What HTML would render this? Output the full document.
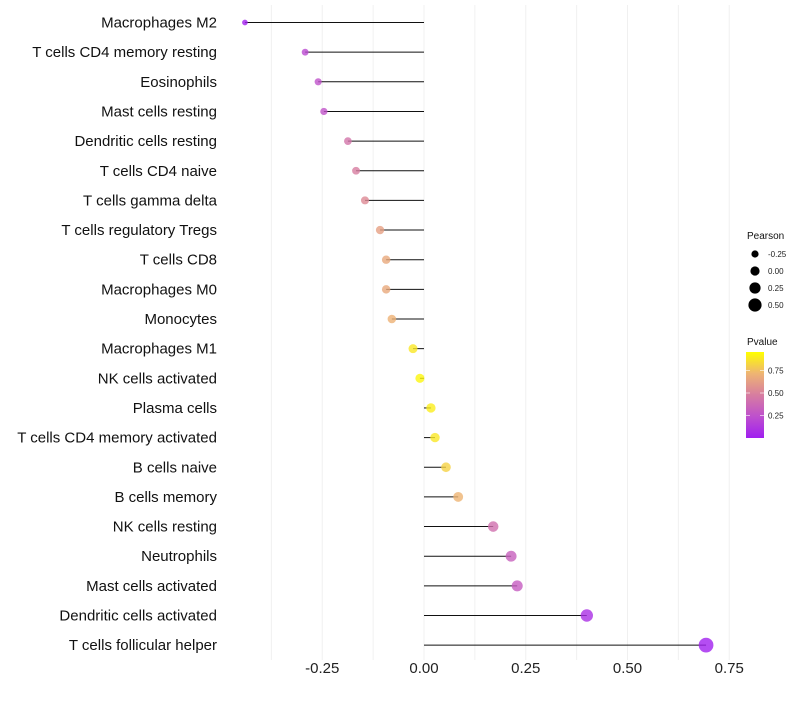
<!DOCTYPE html>
<html><head><meta charset="utf-8"><style>
body{margin:0;background:#fff;font-family:"Liberation Sans",sans-serif}
</style></head><body>
<svg id="c" width="800" height="700" font-family="Liberation Sans, sans-serif"></svg>
<script>
const categories=["Macrophages M2","T cells CD4 memory resting","Eosinophils","Mast cells resting","Dendritic cells resting","T cells CD4 naive","T cells gamma delta","T cells regulatory  Tregs","T cells CD8","Macrophages M0","Monocytes","Macrophages M1","NK cells activated","Plasma cells","T cells CD4 memory activated","B cells naive","B cells memory","NK cells resting","Neutrophils","Mast cells activated","Dendritic cells activated","T cells follicular helper"];
const pearson=[-0.44,-0.292,-0.26,-0.246,-0.187,-0.167,-0.145,-0.108,-0.093,-0.093,-0.079,-0.027,-0.01,0.017,0.027,0.054,0.084,0.17,0.214,0.229,0.40,0.693];
const pvalue=[0.01,0.22,0.26,0.27,0.45,0.5,0.56,0.66,0.7,0.7,0.74,0.92,0.97,0.94,0.92,0.85,0.75,0.42,0.34,0.32,0.08,0.01];
const xTicks=[-0.25,0,0.25,0.5,0.75];
const xTickLabels=["-0.25","0.00","0.25","0.50","0.75"];
const sizeLegend=[-0.25,0,0.25,0.5];
const sizeLegendLabels=["-0.25","0.00","0.25","0.50"];
const pLegend=[0.25,0.5,0.75];
const pLegendLabels=["0.25","0.50","0.75"];

const NS="http://www.w3.org/2000/svg";
const svg=document.getElementById('c');
const X=v=>424+v*407;
const Y=i=>22.5+i*29.65;
const R=v=>4.6+4*v;
const stops=[[0,[160,31,240]],[0.25,[190,80,205]],[0.5,[215,125,160]],[0.75,[238,180,115]],[1,[255,255,0]]];
function col(p){for(let k=1;k<stops.length;k++){if(p<=stops[k][0]){const a=stops[k-1],b=stops[k],t=(p-a[0])/(b[0]-a[0]);return 'rgb('+a[1].map((c,j)=>Math.round(c+(b[1][j]-c)*t)).join(',')+')';}}return 'rgb(255,255,0)';}
function el(t,a,p){const e=document.createElementNS(NS,t);for(const k in a)e.setAttribute(k,a[k]);(p||svg).appendChild(e);return e;}
for(let v=-0.375;v<=0.76;v+=0.125){const g=el('line',{x1:X(v),x2:X(v),y1:5,y2:660,stroke:'#f0f0f0','stroke-width':1});

}
xTicks.forEach((v,i)=>{const t=el('text',{x:X(v),y:673,'text-anchor':'middle','font-size':15,fill:'#222'});t.textContent=xTickLabels[i];

});
categories.forEach((c,i)=>{
const y=Y(i);
const t=el('text',{x:217,y:y+5,'text-anchor':'end','font-size':15,fill:'#111'});t.textContent=c;


const l=el('line',{x1:X(0),x2:X(pearson[i]),y1:y,y2:y,stroke:'#111','stroke-width':1});


const d=el('circle',{cx:X(pearson[i]),cy:y,r:R(pearson[i]),fill:col(pvalue[i]),opacity:0.8});


});
const st=el('text',{x:747,y:239,'font-size':10,fill:'#111'});st.textContent='Pearson';


sizeLegend.forEach((v,i)=>{const y=254+i*17;
const c=el('circle',{cx:755,cy:y,r:R(v),fill:'#000'});


const t=el('text',{x:768,y:y+3,'font-size':8,fill:'#222'});t.textContent=sizeLegendLabels[i];

});
const ct=el('text',{x:747,y:345,'font-size':10,fill:'#111'});ct.textContent='Pvalue';


const defs=el('defs',{});const lg=el('linearGradient',{id:'g',x1:0,y1:1,x2:0,y2:0},defs);
stops.forEach(s=>el('stop',{offset:s[0],'stop-color':'rgb('+s[1].join(',')+')'},lg));
const bar=el('rect',{x:746,y:352,width:18,height:86,fill:'url(#g)'});


pLegend.forEach((v,i)=>{const y=438-v*90;
el('line',{x1:746,x2:750,y1:y,y2:y,stroke:'#fff','stroke-width':0.6});
el('line',{x1:760,x2:764,y1:y,y2:y,stroke:'#fff','stroke-width':0.6});
const t=el('text',{x:768,y:y+3,'font-size':8,fill:'#222'});t.textContent=pLegendLabels[i];

});
</script>
</body></html>
